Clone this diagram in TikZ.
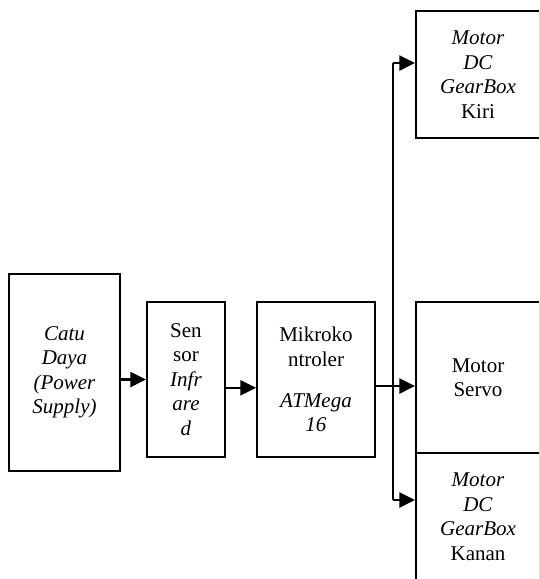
\documentclass[tikz,border=0pt]{standalone}
\usepackage{fontspec}
\setmainfont{Liberation Serif}
\usepackage{tikz}
\usetikzlibrary{arrows.meta}
\tikzset{
  bx/.style={rectangle,draw,line width=1.1pt,align=center,inner sep=2pt,font=\fontsize{12.6}{14.7}\selectfont},
  arr/.style={-{Triangle[length=9.5pt,width=9pt]},line width=1.6pt},
  ln/.style={line width=1.3pt},
}

\begin{document}
\begin{tikzpicture}[x=0.6pt,y=-0.6pt]
  \useasboundingbox (0,0) rectangle (539,579);
  \clip (0,0) rectangle (539,579);
  % blocks
  \node[bx,minimum width=66.6pt,minimum height=118.2pt] (catu) at (64.5,372.5) {\textit{Catu}\\\textit{Daya}\\\textit{(Power}\\\textit{Supply)}};
  \node[bx,minimum width=46.8pt,minimum height=93pt] (sensor) at (186,379.5) {Sen\\sor\\\textit{Infr}\\\textit{are}\\\textit{d}};
  \node[bx,minimum width=70.8pt,minimum height=93pt] (mikro) at (316,379.5) {Mikroko\\ntroler\\[10pt]\textit{ATMega}\\\textit{16}};
  \node[bx,minimum width=74.4pt,minimum height=76.2pt] (kiri) at (478,74.5) {\textit{Motor}\\\textit{DC}\\\textit{GearBox}\\Kiri};
  \node[bx,minimum width=74.4pt,minimum height=90.6pt] (servo) at (478,377.5) {Motor\\Servo};
  \node[bx,minimum width=74.4pt,minimum height=76.2pt] (kanan) at (478,516.5) {\textit{Motor}\\\textit{DC}\\\textit{GearBox}\\Kanan};
  % connectors
  \coordinate (top) at (393,63);
  \coordinate (split) at (393,386);
  \coordinate (bot) at (393,500);
  \draw[arr] (catu.east |- sensor.west) -- (sensor.west);
  \draw[arr] ([yshift=-5pt]sensor.east) -- ([yshift=-5pt]mikro.west);
  \draw[arr] (mikro.east |- split) -- (servo.west |- split);
  \draw[ln] (top) -- (bot);
  \draw[arr] (top) -- (kiri.west |- top);
  \draw[arr] (bot) -- (kanan.west |- bot);
\end{tikzpicture}
\end{document}
